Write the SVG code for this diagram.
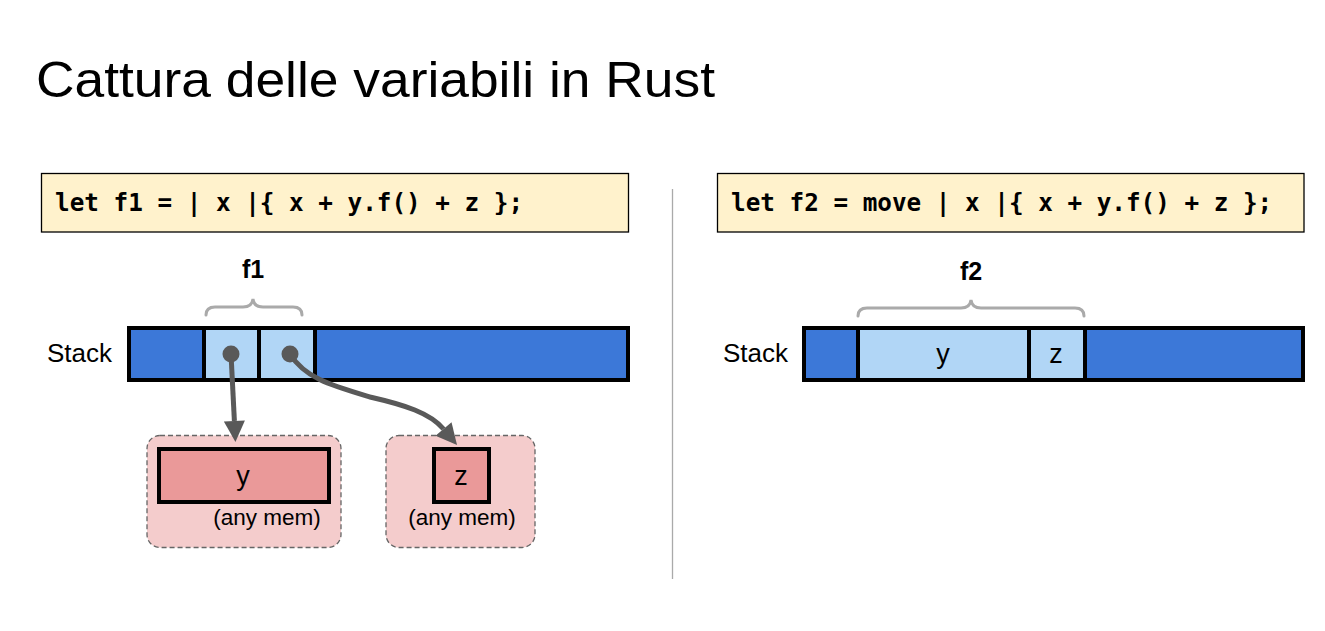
<svg xmlns="http://www.w3.org/2000/svg" width="1325" height="631" viewBox="0 0 1325 631">
<defs>
<style>
.title{font-family:"Liberation Sans",Arial,sans-serif;font-size:50px;fill:#000}
.code{font-family:"DejaVu Sans Mono","Liberation Mono",monospace;font-weight:bold;font-size:24.3px;fill:#000}
.codebox{fill:#fff2cc;stroke:#000;stroke-width:1.3}
.lbl{font-family:"Liberation Sans",Arial,sans-serif;font-size:26px;fill:#000}
.cell{font-family:"Liberation Sans",Arial,sans-serif;font-size:27px;fill:#000}
.blbl{font-family:"Liberation Sans",Arial,sans-serif;font-size:25px;font-weight:bold;fill:#000}
.small{font-family:"Liberation Sans",Arial,sans-serif;font-size:22.5px;fill:#000}
.dark{fill:#3c78d8;stroke:#000;stroke-width:4}
.light{fill:#b1d6f6;stroke:#000;stroke-width:4}
.brace{fill:none;stroke:#aaaaaa;stroke-width:3;stroke-linecap:round}
.mem{fill:#f4cccc;stroke:#666;stroke-width:1.3;stroke-dasharray:5 3}
.memcell{fill:#ea9999;stroke:#000;stroke-width:4}
.ptr{fill:none;stroke:#595959;stroke-width:5}
.dot{fill:#595959}
</style>
<marker id="ah" viewBox="0 0 10 10" refX="0" refY="5" markerWidth="25" markerHeight="21" markerUnits="userSpaceOnUse" orient="auto">
<path d="M0,0 L10,5 L0,10 Z" fill="#595959"/>
</marker>
</defs>
<rect width="1325" height="631" fill="#fff"/>
<text class="title" x="36" y="97" textLength="679" lengthAdjust="spacingAndGlyphs">Cattura delle variabili in Rust</text>

<line x1="672.5" y1="189" x2="672.5" y2="579" stroke="#aaaaaa" stroke-width="1.3"/>

<g id="code1">
<rect class="codebox" x="41.5" y="173.5" width="587" height="58.5"/>
<text class="code" x="55" y="211" xml:space="preserve">let f1 = | x |{ x + y.f() + z };</text>
</g>
<g id="code2">
<rect class="codebox" x="717.5" y="173.5" width="586.5" height="58.5"/>
<text class="code" x="731" y="211" xml:space="preserve">let f2 = move | x |{ x + y.f() + z };</text>
</g>

<g id="f1label">
<text class="blbl" x="253" y="278" text-anchor="middle">f1</text>
<path class="brace" d="M206,315 Q206,307 215,307 L243,307 Q252,307 253,299 Q254,307 263,307 L293,307 Q302,307 302,315"/>
</g>

<g id="stack1">
<text class="lbl" x="47" y="362">Stack</text>
<rect class="dark" x="129" y="328" width="499" height="52"/>
<rect class="light" x="204" y="328" width="55" height="52"/>
<rect class="light" x="259" y="328" width="56" height="52"/>
</g>

<g id="memy">
<rect class="mem" x="147" y="435.5" width="194" height="112" rx="13"/>
<rect class="memcell" x="159" y="449" width="170" height="53"/>
<text class="cell" x="243" y="485" text-anchor="middle">y</text>
<text class="small" x="267" y="525" text-anchor="middle">(any mem)</text>
</g>

<g id="memz">
<rect class="mem" x="386" y="435.5" width="149" height="112" rx="13"/>
<rect class="memcell" x="434" y="449" width="55" height="53"/>
<text class="cell" x="461" y="485" text-anchor="middle">z</text>
<text class="small" x="462" y="525" text-anchor="middle">(any mem)</text>
</g>

<g id="connectors">
<path class="ptr" d="M231,354 L234.4,421" marker-end="url(#ah)"/>
<path class="ptr" d="M290,354 C305,378 330,385 370,397 C405,405 430,413 443.5,429" marker-end="url(#ah)"/>
<circle class="dot" cx="231" cy="354" r="8.5"/>
<circle class="dot" cx="290" cy="354" r="8.5"/>
</g>

<g id="f2label">
<text class="blbl" x="971" y="280" text-anchor="middle">f2</text>
<path class="brace" d="M858,316 Q858,308 867,308 L961,308 Q970,308 971,300 Q972,308 981,308 L1075,308 Q1084,308 1084,316"/>
</g>

<g id="stack2">
<text class="lbl" x="723" y="362">Stack</text>
<rect class="dark" x="804" y="328" width="499" height="52"/>
<rect class="light" x="858" y="328" width="171" height="52"/>
<rect class="light" x="1029" y="328" width="56" height="52"/>
<text class="cell" x="943" y="363" text-anchor="middle">y</text>
<text class="cell" x="1056" y="363" text-anchor="middle">z</text>
</g>
</svg>
